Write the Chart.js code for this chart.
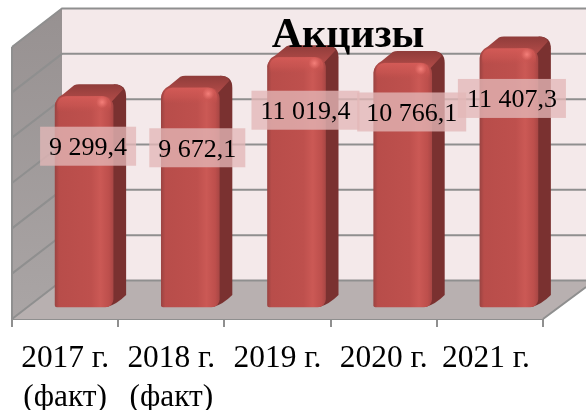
<!DOCTYPE html>
<html>
<head>
<meta charset="utf-8">
<style>
    html, body { margin: 0; padding: 0; background: #fff; }
    canvas { display: block; }
</style>
</head>
<body>
<canvas id="chart" width="586" height="410"></canvas>
<script src="https://cdn.jsdelivr.net/npm/chart.js@4"></script>
<script>
const categories = [
    ["2017 г.", "(факт)"],
    ["2018 г.", "(факт)"],
    "2019 г.",
    "2020 г.",
    "2021 г. "
];
const values = [9299.4, 9672.1, 11019.4, 10766.1, 11407.3];
const valueLabels = ["9 299,4", "9 672,1", "11 019,4", "10 766,1", "11 407,3"];
const chartTitle = "Акцизы";
const axisMax = 12000;
const axisStep = 2000;

// the labels were moved by hand in the original, so they sit off the bars
const labelShift = [[4, 50], [7, 60], [9, 53], [9, 49], [3, 50]];

const FONT = '"Liberation Serif", "Times New Roman", serif';
const BAR_WIDTH = 58;
const BAR_SHIFT = { x: 19, y: -12 };   // front of the bars vs front of the floor
const BAR_DEPTH = { x: 13, y: -12 };
const WALL_DEPTH = { x: 50, y: -38.5 };
const GRID = "#8f8f8f";

function barFill(context) {
    const chart = context.chart;
    const x = chart.scales.x ? chart.scales.x.getPixelForValue(context.dataIndex) : NaN;
    if (!Number.isFinite(x)) return "#be504d";
    // the canvas is already translated when the bars are drawn
    const left = x - BAR_WIDTH / 2;
    const grad = chart.ctx.createLinearGradient(left, 0, left + BAR_WIDTH, 0);
    grad.addColorStop(0, "#9c4442");
    grad.addColorStop(0.07, "#b84d4a");
    grad.addColorStop(0.62, "#be504d");
    grad.addColorStop(0.78, "#cb5955");
    grad.addColorStop(0.93, "#bd4f4c");
    grad.addColorStop(1, "#a94745");
    return grad;
}

const boxPlugin = {
    id: "box3d",
    beforeDatasetsDraw(chart) {
        const ctx = chart.ctx;
        const area = chart.chartArea;
        const y = chart.scales.y;
        const w = chart.width;
        const backLeft = area.left + WALL_DEPTH.x;
        const backTop = area.top + WALL_DEPTH.y;
        const backBottom = area.bottom + WALL_DEPTH.y;

        // back wall
        ctx.fillStyle = "#f4e9ea";
        ctx.fillRect(backLeft, backTop, w - backLeft, backBottom - backTop);

        // side wall
        const side = ctx.createLinearGradient(0, backTop, 0, area.bottom);
        side.addColorStop(0, "#979191");
        side.addColorStop(1, "#aaa5a5");
        ctx.fillStyle = side;
        ctx.beginPath();
        ctx.moveTo(area.left, area.top);
        ctx.lineTo(backLeft, backTop);
        ctx.lineTo(backLeft, backBottom);
        ctx.lineTo(area.left, area.bottom);
        ctx.closePath();
        ctx.fill();

        // floor
        const floorRight = area.right + 43;
        ctx.fillStyle = "#b8b0b0";
        ctx.beginPath();
        ctx.moveTo(area.left, area.bottom);
        ctx.lineTo(backLeft, backBottom);
        ctx.lineTo(floorRight, backBottom);
        ctx.lineTo(floorRight, area.bottom - 32);
        ctx.lineTo(area.right, area.bottom);
        ctx.closePath();
        ctx.fill();

        // grid on both walls
        ctx.strokeStyle = GRID;
        ctx.lineWidth = 2;
        y.ticks.forEach(function (tick) {
            const py = y.getPixelForValue(tick.value);
            ctx.beginPath();
            ctx.moveTo(area.left, py);
            ctx.lineTo(backLeft, py + WALL_DEPTH.y);
            ctx.lineTo(w, py + WALL_DEPTH.y);
            ctx.stroke();
        });
        ctx.beginPath();
        ctx.moveTo(area.right, area.bottom);
        ctx.lineTo(floorRight, area.bottom - 32);
        ctx.moveTo(area.left, area.top);
        ctx.lineTo(area.left, area.bottom);
        ctx.stroke();

        // bars sit in the middle of the box
        ctx.save();
        ctx.translate(BAR_SHIFT.x, BAR_SHIFT.y);
        chart.getDatasetMeta(0).data.forEach(function (bar) {
            const left = bar.x - bar.width / 2;
            const right = bar.x + bar.width / 2;
            const dx = BAR_DEPTH.x;
            const dy = BAR_DEPTH.y;

            // right side
            ctx.fillStyle = "#7a3130";
            ctx.beginPath();
            ctx.moveTo(right - 10, bar.y);
            ctx.lineTo(right + dx - 12, bar.y + dy);
            ctx.quadraticCurveTo(right + dx, bar.y + dy, right + dx, bar.y + dy + 12);
            ctx.lineTo(right + dx, bar.base + dy);
            ctx.quadraticCurveTo(right + 4, bar.base - 3, right - 6, bar.base);
            ctx.closePath();
            ctx.fill();

            // top
            const top = ctx.createLinearGradient(0, bar.y + dy, 0, bar.y + 4);
            top.addColorStop(0, "#8f3c3a");
            top.addColorStop(1, "#b04a47");
            ctx.fillStyle = top;
            ctx.beginPath();
            ctx.moveTo(left, bar.y + 10);
            ctx.quadraticCurveTo(left, bar.y + 2, left + 8, bar.y - 2);
            ctx.lineTo(left + dx + 6, bar.y + dy + 1);
            ctx.quadraticCurveTo(left + dx + 8, bar.y + dy, left + dx + 11, bar.y + dy);
            ctx.lineTo(right + dx - 12, bar.y + dy);
            ctx.quadraticCurveTo(right + dx - 5, bar.y + dy, right + dx - 3, bar.y + dy + 5);
            ctx.lineTo(right - 2, bar.y + 6);
            ctx.closePath();
            ctx.fill();
        });
    },
    afterDatasetsDraw(chart) {
        const ctx = chart.ctx;
        // highlight on the rounded top of the bars
        chart.getDatasetMeta(0).data.forEach(function (bar) {
            const left = bar.x - bar.width / 2;
            const grad = ctx.createLinearGradient(0, bar.y, 0, bar.y + 16);
            grad.addColorStop(0, "rgba(214, 92, 88, 0.9)");
            grad.addColorStop(0.6, "rgba(208, 88, 84, 0.5)");
            grad.addColorStop(1, "rgba(200, 80, 77, 0)");
            ctx.fillStyle = grad;
            ctx.beginPath();
            ctx.roundRect(left + 2, bar.y, bar.width - 4, 16, [9, 9, 0, 0]);
            ctx.fill();

            const spotX = left + bar.width - 11;
            const spot = ctx.createRadialGradient(spotX, bar.y + 6, 0, spotX, bar.y + 6, 6);
            spot.addColorStop(0, "rgba(246, 130, 124, 0.95)");
            spot.addColorStop(1, "rgba(240, 120, 115, 0)");
            ctx.fillStyle = spot;
            ctx.fillRect(spotX - 7, bar.y - 1, 14, 14);
        });
        ctx.restore();
    },
    afterDraw(chart) {
        const ctx = chart.ctx;
        const boxH = 39;
        ctx.save();
        ctx.textAlign = "center";
        ctx.textBaseline = "middle";
        ctx.font = "26px " + FONT;
        chart.getDatasetMeta(0).data.forEach(function (bar, i) {
            const cx = bar.x + BAR_SHIFT.x + labelShift[i][0];
            const cy = bar.y + BAR_SHIFT.y + labelShift[i][1];
            const boxW = ctx.measureText(valueLabels[i]).width + 18;
            ctx.fillStyle = "rgba(227, 183, 183, 0.78)";
            ctx.fillRect(cx - boxW / 2, cy - boxH / 2, boxW, boxH);
            ctx.fillStyle = "#000";
            ctx.fillText(valueLabels[i], cx, cy + 2);
        });

        ctx.textBaseline = "alphabetic";
        ctx.font = "bold 42px " + FONT;
        ctx.fillText(chartTitle, 348, 47);
        ctx.restore();
    }
};

new Chart(document.getElementById("chart"), {
    type: "bar",
    data: {
        labels: categories,
        datasets: [{
            data: values,
            backgroundColor: barFill,
            borderWidth: 0,
            borderSkipped: false,
            borderRadius: { topLeft: 11, topRight: 11, bottomLeft: 2, bottomRight: 8 },
            barThickness: BAR_WIDTH,
            clip: false
        }]
    },
    options: {
        responsive: false,
        animation: false,
        layout: { padding: { top: 47, left: 12, right: 43, bottom: 0 } },
        plugins: {
            legend: { display: false },
            title: { display: false },
            tooltip: { enabled: false }
        },
        scales: {
            x: {
                afterFit: function (scale) { scale.height = 91; },
                border: { color: GRID, width: 2 },
                grid: { drawOnChartArea: false, color: GRID, lineWidth: 2, tickLength: 8 },
                ticks: {
                    color: "#000",
                    padding: 13,
                    maxRotation: 0,
                    minRotation: 0,
                    autoSkip: false,
                    font: { family: FONT, size: 31.4, lineHeight: 1.22 }
                }
            },
            y: {
                display: false,
                min: 0,
                max: axisMax,
                ticks: { stepSize: axisStep }
            }
        }
    },
    plugins: [boxPlugin]
});
</script>
</body>
</html>
